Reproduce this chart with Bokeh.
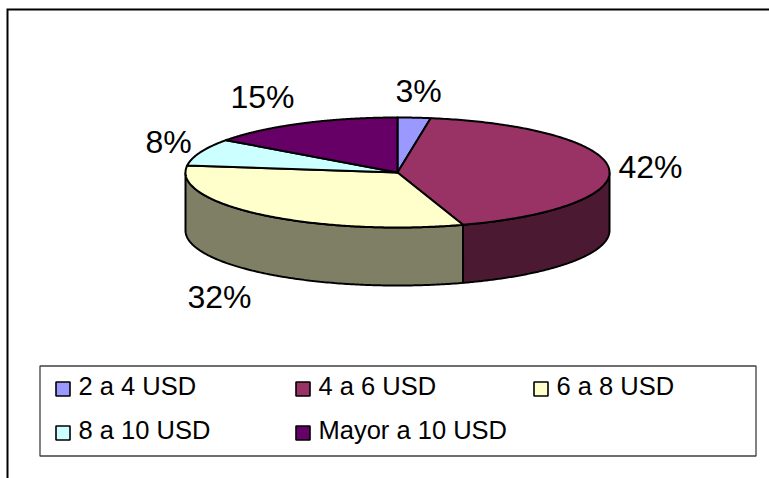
import numpy as np
from bokeh.plotting import figure
from bokeh.models import Range1d
from bokeh.core.properties import value
from bokeh.embed import file_html
from bokeh.resources import INLINE

# --- data ---
CATEGORIES = ["2 a 4 USD", "4 a 6 USD", "6 a 8 USD", "8 a 10 USD", "Mayor a 10 USD"]
VALUES = [2.5, 42.5, 32, 8, 15]
PERCENT_LABELS = ["3%", "42%", "32%", "8%", "15%"]

# --- styles ---
TOP_COLORS = ["#9999FF", "#993366", "#FFFFCC", "#CCFFFF", "#660066"]
SIDE_COLORS = ["#4C4C7F", "#4C1933", "#7F7F66", "#667F7F", "#330033"]

# --- layout (pixels in the 769x478 window) ---
W, H = 769, 478
CX, CY, RX, RY, DEPTH = 397, 172, 212, 55, 58
LABEL_XY = [(395, 90), (618, 166), (187, 296), (145, 141), (230, 96.5)]
LEG_BOX = (39.5, 365.5, 755.5, 455.5)
LEG_SWATCH_XY = [(62.5, 388.5), (302.5, 388.5), (540.5, 388.5), (62.5, 432.5), (302.5, 432.5)]
LEG_TEXT_XY = [(78, 385.5), (318, 385.5), (556, 385.5), (78, 429.5), (318, 429.5)]


def ex(t):
    return CX + RX * np.sin(t)


def ey(t, dy=0.0):
    return CY - RY * np.cos(t) + dy


p = figure(width=W, height=H, x_range=Range1d(0, W), y_range=Range1d(H, 0),
           x_axis_location=None, y_axis_location=None, toolbar_location=None,
           output_backend="svg", min_border=0, outline_line_color=None,
           background_fill_color="white", border_fill_color="white")
p.grid.visible = False

# outer chart frame (only top and left edges are visible)
p.line([7, 7, W], [H, 9, 9], line_color="black", line_width=2, line_join="miter")

fractions = np.cumsum([0] + VALUES) / sum(VALUES)
angles = fractions * 2 * np.pi

# side walls: only the part of each slice facing the viewer
for i in range(len(VALUES)):
    a0 = max(angles[i], np.pi / 2)
    a1 = min(angles[i + 1], 3 * np.pi / 2)
    if a1 <= a0:
        continue
    t = np.linspace(a0, a1, 160)
    xs = np.concatenate([ex(t), ex(t[::-1])])
    ys = np.concatenate([ey(t), ey(t[::-1], DEPTH)])
    p.patch(xs, ys, fill_color=SIDE_COLORS[i], line_color="black", line_width=2)

# top faces
for i in range(len(VALUES)):
    t = np.linspace(angles[i], angles[i + 1], 200)
    xs = np.concatenate([[CX], ex(t)])
    ys = np.concatenate([[CY], ey(t)])
    p.patch(xs, ys, fill_color=TOP_COLORS[i], line_color="black", line_width=2, line_join="round")

# percentage labels
p.text([q[0] for q in LABEL_XY], [q[1] for q in LABEL_XY], text=PERCENT_LABELS,
       text_font=value("Liberation Sans"), text_font_size="32px", text_color="black",
       text_align="left", text_baseline="alphabetic")

# legend
p.quad(left=[LEG_BOX[0]], right=[LEG_BOX[2]], top=[LEG_BOX[1]], bottom=[LEG_BOX[3]],
       fill_color="white", line_color="#404040", line_width=1.3)
p.rect([q[0] for q in LEG_SWATCH_XY], [q[1] for q in LEG_SWATCH_XY], width=14, height=14,
       fill_color=TOP_COLORS, line_color="black", line_width=1.6)
p.text([q[0] for q in LEG_TEXT_XY], [q[1] for q in LEG_TEXT_XY], text=CATEGORIES,
       text_font=value("Liberation Sans"), text_font_size="25.5px", text_color="black",
       text_align="left", text_baseline="alphabetic")

open("out.html", "w").write(file_html(p, INLINE))
